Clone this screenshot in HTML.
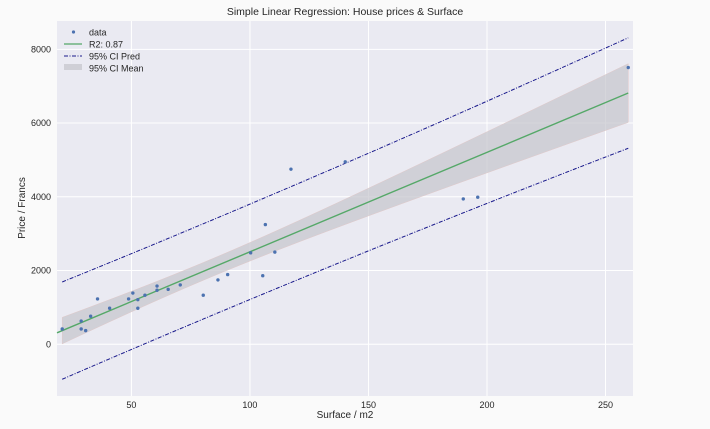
<!DOCTYPE html>
<html><head><meta charset="utf-8"><style>
html,body{margin:0;padding:0;background:#fafafa;}
svg{display:block;font-family:"Liberation Sans",sans-serif;}
</style></head><body>
<svg id="chart" width="710" height="429">
<rect width="710" height="429" fill="#fafafa"/>
<rect x="57" y="21" width="576" height="375" fill="#eaeaf2"/>
<g id="grid"></g>
<g id="bands"></g>
<g id="lines"></g>
<g id="pts"></g>
<g id="ticks"></g>
<text x="345" y="15" text-anchor="middle" font-size="10.5" fill="#262626">Simple Linear Regression: House prices &amp; Surface</text>
<text x="345" y="418" text-anchor="middle" font-size="10" fill="#262626">Surface / m2</text>
<text transform="translate(25,208) rotate(-90)" text-anchor="middle" font-size="10" fill="#262626">Price / Francs</text>
<g>
<circle cx="73.5" cy="32" r="1.6" fill="#4c72b0"/>
<text x="89" y="35.5" font-size="9" fill="#262626">data</text>
<line x1="64" y1="44" x2="82" y2="44" stroke="#55a868" stroke-width="1.3"/>
<text x="89" y="47.5" font-size="9" fill="#262626">R2: 0.87</text>
<line x1="64" y1="56" x2="82" y2="56" stroke="#1a1a8c" stroke-width="1" stroke-dasharray="4,1.5,1,1.5"/>
<text x="89" y="59.5" font-size="9" fill="#262626">95% CI Pred</text>
<rect x="64" y="64" width="18" height="6" fill="#cfcfd6"/>
<text x="89" y="71.5" font-size="9" fill="#262626">95% CI Mean</text>
</g>
</svg>
<script>
const surface=[20.8,28.8,28.8,30.7,32.8,35.7,40.8,48.8,50.6,52.7,52.7,55.7,60.8,60.8,65.5,70.6,80.3,86.5,90.6,100.3,105.4,106.5,110.5,117.3,140.2,190,196.1,259.6];
const price=[415,630,415,370,760,1230,977,1230,1390,1210,977,1330,1580,1465,1490,1610,1330,1745,1890,2480,1860,3246,2500,4749,4947,3943,3988,7506];
const xTicks=[50,100,150,200,250];
const yTicks=[0,2000,4000,6000,8000];
const NS="http://www.w3.org/2000/svg";
const X0=57,X1=633,Y0=21,Y1=396;
const xmin=18.6,xmax=261.6,ymin=-1403,ymax=8768;
function sx(v){return X0+(v-xmin)/(xmax-xmin)*(X1-X0);}
function sy(v){return Y1-(v-ymin)/(ymax-ymin)*(Y1-Y0);}
function mk(tag,attrs,parent){const e=document.createElementNS(NS,tag);for(const k in attrs)e.setAttribute(k,attrs[k]);document.getElementById(parent).appendChild(e);return e;}
// grid and ticks
xTicks.forEach(t=>{
  const g=mk('line',{x1:sx(t),x2:sx(t),y1:Y0,y2:Y1,stroke:'#fff','stroke-width':1},'grid');
  
  
  const l=mk('text',{x:sx(t),y:408,'text-anchor':'middle','font-size':9,fill:'#262626'},'ticks');
  l.textContent=t;
  
  
});
yTicks.forEach(t=>{
  const g=mk('line',{x1:X0,x2:X1,y1:sy(t),y2:sy(t),stroke:'#fff','stroke-width':1},'grid');
  
  
  const l=mk('text',{x:51,y:sy(t)+3,'text-anchor':'end','font-size':9,fill:'#262626'},'ticks');
  l.textContent=t;
  
  
});
// regression
const n=surface.length;
const xb=surface.reduce((a,b)=>a+b,0)/n, yb=price.reduce((a,b)=>a+b,0)/n;
let sxx=0,sxy=0;for(let i=0;i<n;i++){sxx+=(surface[i]-xb)**2;sxy+=(surface[i]-xb)*(price[i]-yb);}
const b1=sxy/sxx,b0=yb-b1*xb;
let sse=0;for(let i=0;i<n;i++){sse+=(price[i]-b0-b1*surface[i])**2;}
const s=Math.sqrt(sse/(n-2)),tq=2.056;
const xs=[];const lo=Math.min(...surface),hi=Math.max(...surface);
for(let i=0;i<=60;i++)xs.push(lo+(hi-lo)*i/60);
const fit=x=>b0+b1*x;
const seM=x=>tq*s*Math.sqrt(1/n+(x-xb)**2/sxx);
const seP=x=>tq*s*Math.sqrt(1+1/n+(x-xb)**2/sxx);
let d=xs.map((x,i)=>(i?'L':'M')+sx(x)+','+sy(fit(x)+seM(x))).join('');
d+=xs.slice().reverse().map(x=>'L'+sx(x)+','+sy(fit(x)-seM(x))).join('')+'Z';
const band=mk('path',{d:d,fill:'#c4c4cc','fill-opacity':0.7,stroke:'#e0c8c8','stroke-width':0.5},'bands');


const up=mk('path',{d:xs.map((x,i)=>(i?'L':'M')+sx(x)+','+sy(fit(x)+seP(x))).join(''),fill:'none',stroke:'#1a1a8c','stroke-width':1,'stroke-dasharray':'4,1.5,1,1.5'},'lines');


const dn=mk('path',{d:xs.map((x,i)=>(i?'L':'M')+sx(x)+','+sy(fit(x)-seP(x))).join(''),fill:'none',stroke:'#1a1a8c','stroke-width':1,'stroke-dasharray':'4,1.5,1,1.5'},'lines');


const fl=mk('line',{x1:X0,y1:sy(fit(xmin)),x2:sx(hi),y2:sy(fit(hi)),stroke:'#55a868','stroke-width':1.4},'lines');


for(let i=0;i<n;i++){
  const c=mk('circle',{cx:sx(surface[i]),cy:sy(price[i]),r:1.7,fill:'#4c72b0'},'pts');
  
  
}
</script>
</body></html>
